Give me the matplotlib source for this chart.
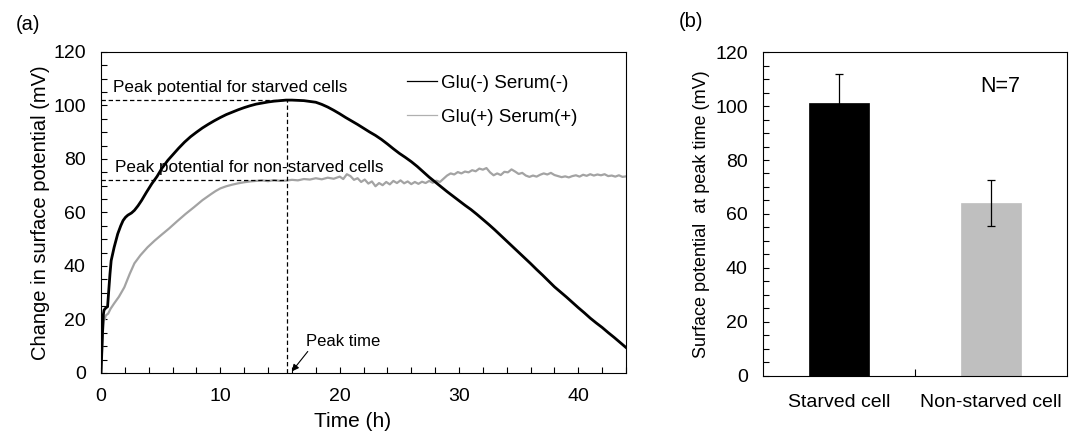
import matplotlib
matplotlib.use("Agg")
import matplotlib.pyplot as plt
from matplotlib.lines import Line2D
from matplotlib.ticker import MultipleLocator, FixedLocator

plt.rcParams["font.family"] = ["Liberation Sans", "DejaVu Sans"]

# ---------------------------------------------------------------- data (a)
t_starved = [0, 0.05, 0.1, 0.15, 0.2, 0.25, 0.4, 0.55, 0.65, 0.75, 0.85, 1.1, 1.4,
             1.65, 1.85, 2.05, 2.25, 2.55, 2.8, 3.1, 3.4, 3.8, 4.25, 4.7, 5.1, 5.6,
             6.1, 6.5, 7.0, 7.5, 8.0, 8.5, 9.0, 9.5, 10, 10.5, 11, 11.5, 12, 12.5,
             13, 13.5, 14, 14.5, 15, 15.5, 16, 16.5, 17, 17.5, 18, 18.5, 19, 19.5,
             20, 20.5, 21, 21.5, 22, 22.5, 23, 23.5, 24, 24.5, 25, 25.5, 26, 26.5,
             27, 27.5, 28, 28.5, 29, 29.5, 30, 30.5, 31, 31.5, 32, 32.5, 33, 33.5,
             34, 34.5, 35, 35.5, 36, 36.5, 37, 37.5, 38, 38.5, 39, 39.5, 40, 40.5,
             41, 41.5, 42, 42.5, 43, 43.5, 44]
v_starved = [0, 6, 12, 18, 22, 23.5, 24.3, 24.8, 31, 37, 42, 47, 52,
             55, 57, 58.2, 59, 59.8, 60.8, 62.5, 64.5, 67.5, 70.7, 73.5, 76.5, 79.5,
             82, 84, 86.3, 88.3, 90, 91.6, 93, 94.3, 95.5, 96.6, 97.5, 98.4, 99.2, 99.9,
             100.5, 100.9, 101.3, 101.6, 101.8, 102, 102, 101.9, 101.8, 101.5, 101.2, 100.4, 99.4, 98.2,
             96.9, 95.5, 94.2, 92.9, 91.5, 90.1, 88.8, 87.3, 85.6, 83.8, 82.1, 80.6, 79.0, 77.2,
             75.2, 73.2, 71.4, 69.6, 67.8, 66.1, 64.4, 62.7, 61.1, 59.3, 57.4, 55.5, 53.5, 51.4,
             49.3, 47.2, 45.1, 43.0, 40.9, 38.7, 36.6, 34.4, 32.2, 30.3, 28.4, 26.4, 24.4, 22.5,
             20.5, 18.7, 17.0, 15.1, 13.3, 11.4, 9.5]

t_fed = [0, 0.05, 0.1, 0.15, 0.2, 0.25, 0.3, 0.4, 0.6, 0.8, 1.1, 1.5, 1.95, 2.4, 2.8,
         3.3, 3.9, 4.5, 5.0, 5.7, 6.4, 7.1, 7.8, 8.5, 9.2, 9.6, 10, 10.5, 11, 11.5, 12,
         12.5, 13, 13.5, 14, 14.5, 15, 15.5, 16, 16.5, 17, 17.5, 18, 18.5, 19, 19.5, 20,
         20.3, 20.6, 20.9, 21.2, 21.5, 21.8, 22.1, 22.4, 22.7, 23.0, 23.3, 23.6, 23.9,
         24.2, 24.5, 24.8, 25.1, 25.4, 25.7, 26.0, 26.3, 26.6, 26.9, 27.2, 27.5, 27.8,
         28.1, 28.4, 28.7, 29.0, 29.3, 29.6, 29.9, 30.2, 30.5, 30.8, 31.1, 31.4, 31.7,
         32.0, 32.3, 32.6, 32.9, 33.2, 33.5, 33.8, 34.1, 34.4, 34.7, 35.0, 35.3, 35.6,
         35.9, 36.2, 36.5, 36.8, 37.1, 37.4, 37.7, 38.0, 38.3, 38.6, 38.9, 39.2, 39.5,
         39.8, 40.1, 40.4, 40.7, 41.0, 41.3, 41.6, 41.9, 42.2, 42.5, 42.8, 43.1, 43.4,
         43.7, 44]
v_fed = [0, 5, 10, 15, 18, 21, 20, 21.5, 22.2, 24, 26, 28.5, 32, 37, 41,
         44, 47, 49.5, 51.4, 54, 56.8, 59.5, 62, 64.6, 66.8, 68, 69, 69.8, 70.4, 70.9, 71.3,
         71.6, 71.8, 72, 71.7, 72.1, 71.8, 71.9, 72.2, 72, 72.5, 72.3, 72.8, 72.4, 73, 72.6, 73.4,
         72.5, 74.3, 73.6, 72.2, 72.8, 71.4, 72.3, 70.8, 71.6, 69.8, 71.0, 70.2, 71.4,
         70.5, 71.8, 71.0, 72.0, 70.9, 71.6, 70.6, 71.4, 70.7, 71.5, 71.0, 71.8, 71.1,
         71.9, 71.4, 72.6, 73.8, 74.6, 74.2, 75.1, 74.6, 75.3, 75.0, 75.8, 75.4, 76.4,
         76.0, 76.6, 75.0, 73.9, 74.6, 74.0, 75.2, 75.0, 76.1, 75.3, 74.4, 74.8, 73.8,
         73.3, 73.8, 73.4, 74.1, 74.6, 74.2, 74.8, 74.0, 73.6, 73.2, 73.5, 73.1, 73.6,
         73.9, 73.4, 74.1, 73.7, 74.3, 73.8, 74.2, 73.9, 74.3, 73.6, 73.8, 73.4, 73.9,
         73.3, 73.5]

peak_time = 15.6
peak_starved = 102
peak_fed = 72

# ---------------------------------------------------------------- data (b)
groups = ["Starved cell", "Non-starved cell"]
means = [101, 64]
errs = [11, 8.5]
bar_colors = ["black", "#bfbfbf"]

fig = plt.figure(figsize=(10.77, 4.37), dpi=100)

# ---------------------------------------------------------------- panel (a)
ax = fig.add_axes([0.0938, 0.1465, 0.4875, 0.7346])
ax.plot(t_starved, v_starved, color="black", lw=2.0, zorder=3)
ax.plot(t_fed, v_fed, color="#a3a3a3", lw=1.6, zorder=2)

dash = dict(color="black", lw=0.9, ls=(0, (3.5, 2.2)), zorder=4)
ax.plot([0, peak_time], [peak_starved, peak_starved], **dash)
ax.plot([0, peak_time], [peak_fed, peak_fed], **dash)
ax.plot([peak_time, peak_time], [0, peak_starved], **dash)

ax.text(1.0, 105.0, "Peak potential for starved cells", fontsize=12.3, va="baseline")
ax.text(1.2, 75.1, "Peak potential for non-starved cells", fontsize=12.3, va="baseline")
ax.annotate("Peak time", xy=(16.0, 0.6), xytext=(17.2, 10.2), fontsize=12,
            va="baseline", ha="left",
            arrowprops=dict(arrowstyle="-|>", color="black", lw=0.8,
                            mutation_scale=10, shrinkA=0, shrinkB=0,
                            relpos=(0.05, 0.0)))

ax.set_xlim(0, 44)
ax.set_ylim(0, 120)
ax.xaxis.set_major_locator(MultipleLocator(10))
ax.xaxis.set_minor_locator(MultipleLocator(2))
ax.yaxis.set_major_locator(MultipleLocator(20))
ax.yaxis.set_minor_locator(MultipleLocator(5))
ax.tick_params(which="both", direction="in", length=4, width=0.8, labelsize=14)
ax.tick_params(axis="y", pad=11)
ax.tick_params(axis="x", pad=11)
ax.set_xlabel("Time (h)", fontsize=15)
ax.set_ylabel("Change in surface potential (mV)", fontsize=14.5)
ax.xaxis.set_label_coords(0.479, -0.122)
ax.yaxis.set_label_coords(-0.097, 0.5)
for s in ax.spines.values():
    s.set_linewidth(0.8)

handles = [Line2D([], [], color="black", lw=0.9),
           Line2D([], [], color="#b0b0b0", lw=0.9)]
ax.legend(handles, ["Glu(-) Serum(-)", "Glu(+) Serum(+)"], loc="upper left",
          bbox_to_anchor=(0.583, 0.93), frameon=False, fontsize=13.5,
          handlelength=1.6, handletextpad=0.2, labelspacing=0.91,
          borderpad=0, borderaxespad=0)

# ---------------------------------------------------------------- panel (b)
bx = fig.add_axes([0.7084, 0.1396, 0.2823, 0.7414])
xpos = list(range(len(groups)))
bx.bar(xpos, means, width=0.395, color=bar_colors, edgecolor=bar_colors,
       lw=0.5, zorder=2)
bx.errorbar(xpos, means, yerr=errs, fmt="none", ecolor="black", elinewidth=0.9,
            capsize=3, capthick=0.9, zorder=3)
bx.text(0.78, 0.892, "N=7", transform=bx.transAxes, fontsize=15.5,
        ha="center", va="center")

bx.set_xlim(-0.5, 1.5)
bx.set_ylim(0, 120)
bx.set_xticks(xpos)
bx.set_xticklabels(groups, fontsize=14)
bx.xaxis.set_minor_locator(FixedLocator([0.5]))
bx.yaxis.set_major_locator(MultipleLocator(20))
bx.yaxis.set_minor_locator(MultipleLocator(5))
bx.tick_params(axis="y", which="both", direction="in", length=4, width=0.8,
               labelsize=14, pad=11)
bx.tick_params(axis="x", which="major", length=0, pad=13)
bx.tick_params(axis="x", which="minor", direction="in", length=5, width=0.8)
bx.set_ylabel("Surface potential  at peak time (mV)", fontsize=13)
bx.yaxis.set_label_coords(-0.174, 0.5)
for s in bx.spines.values():
    s.set_linewidth(0.8)

fig.text(0.026, 0.945, "(a)", fontsize=14.5, ha="center", va="center")
fig.text(0.6415, 0.95, "(b)", fontsize=14.5, ha="center", va="center")

fig.savefig("out.png", dpi=100)
